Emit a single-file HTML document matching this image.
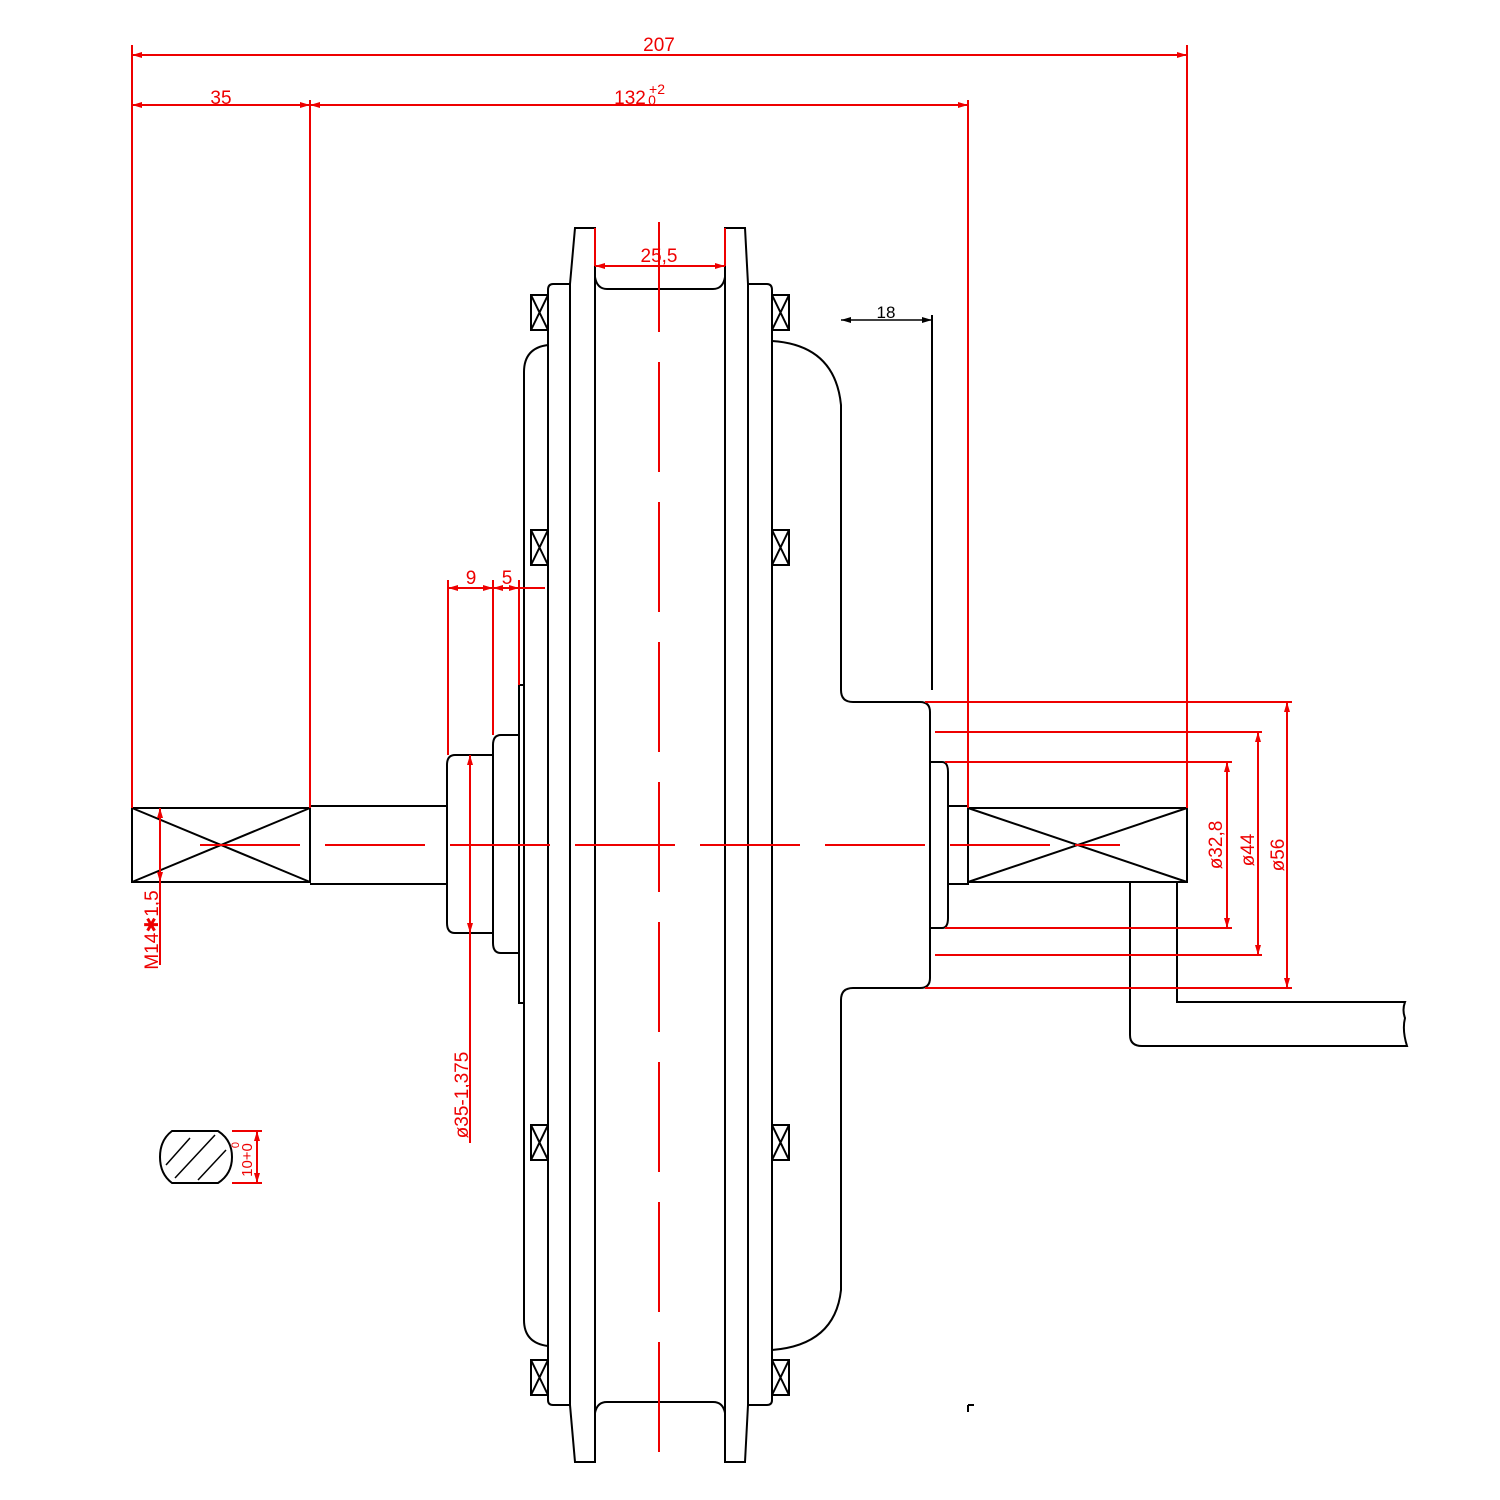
<!DOCTYPE html>
<html><head><meta charset="utf-8"><style>body{margin:0;background:#fff}svg{display:block}</style></head><body>
<svg width="1500" height="1500" viewBox="0 0 1500 1500" xmlns="http://www.w3.org/2000/svg">
<defs>
<marker id="a" viewBox="0 0 10 6" refX="10" refY="3" markerWidth="14" markerHeight="6" markerUnits="userSpaceOnUse" orient="auto-start-reverse"><path d="M0,0L10,3L0,6z" fill="#e00"/></marker>
<marker id="b" viewBox="0 0 10 6" refX="10" refY="3" markerWidth="14" markerHeight="6" markerUnits="userSpaceOnUse" orient="auto-start-reverse"><path d="M0,0L10,3L0,6z" fill="#000"/></marker>
</defs>
<g fill="none" stroke="#000" stroke-width="2">
<path d="M570,1405 L570,284 L575,228 L595,228 L595,1462 L575,1462 L570,1405"/>
<path d="M748,1405 L748,284 L745,228 L725,228 L725,1462 L745,1462 L748,1405"/>
<path d="M595,277 Q597,289 607,289 L713,289 Q723,289 725,277"/>
<path d="M595,1413 Q597,1402 607,1402 L713,1402 Q723,1402 725,1413"/>
<path d="M570,284 L553,284 Q548,284 548,290 L548,1400 Q548,1405 553,1405 L570,1405"/>
<path d="M748,284 L767,284 Q772,284 772,290 L772,1400 Q772,1405 767,1405 L748,1405"/>
<g>
<rect x="531" y="295" width="17" height="35"/><path d="M531,295L548,330M548,295L531,330"/>
<rect x="531" y="530" width="17" height="35"/><path d="M531,530L548,565M548,530L531,565"/>
<rect x="531" y="1125" width="17" height="35"/><path d="M531,1125L548,1160M548,1125L531,1160"/>
<rect x="531" y="1360" width="17" height="35"/><path d="M531,1360L548,1395M548,1360L531,1395"/>
<rect x="772" y="295" width="17" height="35"/><path d="M772,295L789,330M789,295L772,330"/>
<rect x="772" y="530" width="17" height="35"/><path d="M772,530L789,565M789,530L772,565"/>
<rect x="772" y="1125" width="17" height="35"/><path d="M772,1125L789,1160M789,1125L772,1160"/>
<rect x="772" y="1360" width="17" height="35"/><path d="M772,1360L789,1395M789,1360L772,1395"/>
</g>
<path d="M548,345 Q524,348 524,372 L524,1320 Q524,1343 548,1346"/>
<path d="M772,341 Q835,345 841,405 L841,690 Q841,702 853,702 L920,702 Q930,702 930,712 L930,978 Q930,988 920,988 L853,988 Q841,988 841,1000 L841,1290 Q835,1345 772,1350"/>
<path d="M930,762 L942,762 Q948,762 948,772 L948,918 Q948,928 942,928 L930,928"/>
<path d="M948,806 L968,806 L968,884 L948,884"/>
<rect x="968" y="808" width="219" height="74"/>
<path d="M968,808L1187,882M1187,808L968,882"/>
<path d="M1130,882 L1130,1035 Q1130,1046 1142,1046 L1407,1046 Q1402,1030 1405,1018 Q1402,1010 1405,1002 L1177,1002 L1177,882"/>
<path d="M932,315 L932,690"/>
<path d="M841,320 L932,320" marker-start="url(#b)" marker-end="url(#b)" stroke-width="1.5"/>
<rect x="132" y="808" width="178" height="74"/>
<path d="M132,808L310,882M310,808L132,882"/>
<path d="M310,806 L447,806 M310,884 L447,884"/>
<path d="M493,755 L455,755 Q447,755 447,765 L447,923 Q447,933 455,933 L493,933"/>
<path d="M519,735 L501,735 Q493,735 493,745 L493,943 Q493,953 501,953 L519,953"/>
<path d="M524,685 L519,685 L519,1003 L524,1003"/>
<path d="M172,1131 L218,1131 Q232,1140 232,1157 Q232,1174 218,1183 L172,1183 Q160,1174 160,1157 Q160,1140 172,1131Z"/>
<path d="M166,1165 L190,1138 M175,1178 L215,1135 M198,1180 L226,1150" stroke-width="1.5"/>
</g>
<g fill="none" stroke="#e00" stroke-width="2">
<path d="M200,845 H1120" stroke-dasharray="100,25"/>
<path d="M659,222 V1462" stroke-dasharray="110,30"/>
<path d="M132,45 V808 M310,100 V808 M968,100 V808 M1187,45 V808"/>
<path d="M132,55 H1187" marker-start="url(#a)" marker-end="url(#a)"/>
<path d="M132,105 H310" marker-start="url(#a)" marker-end="url(#a)"/>
<path d="M310,105 H968" marker-start="url(#a)" marker-end="url(#a)"/>
<path d="M595,228 V266 M725,228 V266"/>
<path d="M595,266 H725" marker-start="url(#a)" marker-end="url(#a)"/>
<path d="M448,580 V755 M493,580 V735 M519,580 V685"/>
<path d="M448,588 H493" marker-start="url(#a)" marker-end="url(#a)"/>
<path d="M493,588 H519" marker-start="url(#a)" marker-end="url(#a)"/>
<path d="M519,588 H545"/>
<path d="M160,808 V965" />
<path d="M160,822 V808" marker-end="url(#a)"/>
<path d="M160,868 V882" marker-end="url(#a)"/>
<path d="M470,755 V1143"/>
<path d="M470,770 V755" marker-end="url(#a)"/>
<path d="M470,918 V933" marker-end="url(#a)"/>
<path d="M925,702 H1292 M935,732 H1262 M945,762 H1232 M945,928 H1232 M935,955 H1262 M925,988 H1292"/>
<path d="M1287,702 V988" marker-start="url(#a)" marker-end="url(#a)"/>
<path d="M1258,732 V955" marker-start="url(#a)" marker-end="url(#a)"/>
<path d="M1227,762 V928" marker-start="url(#a)" marker-end="url(#a)"/>
<path d="M232,1131 H262 M232,1183 H262"/>
<path d="M257,1131 V1183" marker-start="url(#a)" marker-end="url(#a)"/>
</g>
<g fill="#e00" font-family="Liberation Sans, sans-serif" font-size="19" text-anchor="middle">
<text x="659" y="51">207</text>
<text x="221" y="104">35</text>
<text x="630" y="104">132</text>
<text x="652" y="105" font-size="14">0</text>
<text x="657" y="94" font-size="14">+2</text>
<text x="659" y="262">25,5</text>
<text x="471" y="584">9</text>
<text x="507" y="584">5</text>
<text transform="translate(158,930) rotate(-90)">M14✱1,5</text>
<text transform="translate(468,1095) rotate(-90)">ø35-1,375</text>
<text transform="translate(1222,845) rotate(-90)">ø32,8</text>
<text transform="translate(1254,850) rotate(-90)">ø44</text>
<text transform="translate(1284,855) rotate(-90)">ø56</text>
<text transform="translate(252,1160) rotate(-90)" font-size="15">10+0</text>
<text transform="translate(239,1145) rotate(-90)" font-size="11">0</text>
</g>
<text x="886" y="318" font-family="Liberation Sans, sans-serif" font-size="17" text-anchor="middle">18</text>
<path d="M968,1405 V1412 M968,1405 H974" stroke="#000" stroke-width="2"/>
</svg>
</body></html>
